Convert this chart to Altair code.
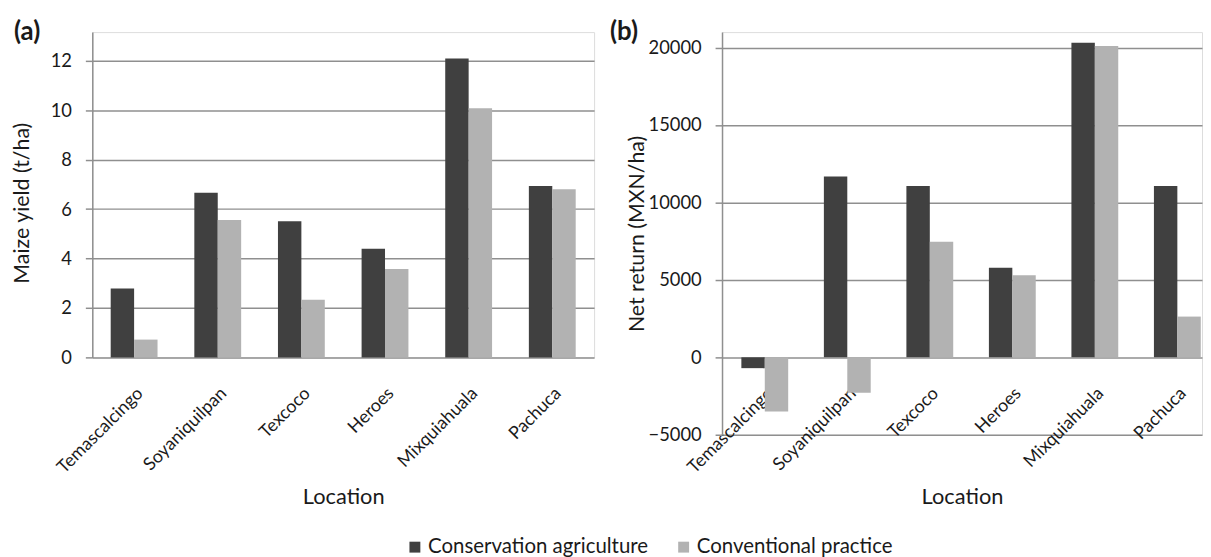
import altair as alt
import pandas as pd

locations = ["Temascalcingo", "Soyaniquilpan", "Texcoco", "Heroes", "Mixquiahuala", "Pachuca"]
series = ["Conservation agriculture", "Conventional practice"]
yield_ca = [2.79, 6.66, 5.51, 4.40, 12.09, 6.93]
yield_cp = [0.72, 5.56, 2.33, 3.58, 10.08, 6.80]
net_ca = [-700, 11670, 11070, 5790, 20320, 11070]
net_cp = [-3500, -2290, 7460, 5300, 20100, 2630]
yield_ticks = [0, 2, 4, 6, 8, 10, 12]
net_ticks = [-5000, 0, 5000, 10000, 15000, 20000]

rows = []
for i, loc in enumerate(locations):
    rows.append({"Location": loc, "Practice": series[0], "Yield": yield_ca[i], "Net": net_ca[i]})
    rows.append({"Location": loc, "Practice": series[1], "Yield": yield_cp[i], "Net": net_cp[i]})
df = pd.DataFrame(rows)

FONT = "Lato"
TXT = "#1a1a1a"
GRID = "#8f8f8f"

color = alt.Color(
    "Practice:N",
    sort=series,
    scale=alt.Scale(domain=series, range=["#404040", "#b2b2b2"]),
    legend=alt.Legend(
        title=None, orient="none", direction="horizontal",
        legendX=315, legendY=509,
        symbolType="square", symbolSize=121, symbolStrokeWidth=0,
        labelFontSize=20.6, labelFont=FONT, labelColor=TXT, labelLimit=400,
        columnPadding=25, labelOffset=3,
    ),
)

def yaxis(title, values, fmt, tx, ty=None):
    kw = dict(
        title=title, values=values, format=fmt, grid=True,
        gridColor=GRID, gridWidth=1.5, domainColor=GRID, domainWidth=1.5,
        tickColor=GRID, tickWidth=1.5, tickSize=7,
        labelFont=FONT, labelFontSize=18.5, labelColor=TXT, labelPadding=14,
        titleFont=FONT, titleFontSize=21.5, titleFontWeight="normal", titleColor=TXT,
        titleX=tx,
    )
    if ty is not None:
        kw["titleY"] = ty
    return alt.Axis(**kw)

def xaxis(offset):
    return alt.Axis(
        title="Location", labelAngle=-45, ticks=False, domain=False, offset=offset,
        labelFont=FONT, labelFontSize=18, labelColor=TXT, labelPadding=27,
        titleFont=FONT, titleFontSize=22, titleFontWeight="normal", titleColor=TXT,
        titlePadding=10,
    )

def ttl(t, off, dx):
    return alt.TitleParams(t, anchor="start", frame="bounds", font=FONT, fontSize=26,
                           fontWeight="bold", color=TXT, offset=off, dx=dx)

a = alt.Chart(df, title=ttl("(a)", -13, 2)).mark_bar().encode(
    x=alt.X("Location:N", sort=locations,
            scale=alt.Scale(paddingInner=0.44, paddingOuter=0.22), axis=xaxis(0)),
    xOffset=alt.XOffset("Practice:N", sort=series),
    y=alt.Y("Yield:Q", scale=alt.Scale(domain=[0, 13.16], nice=False),
            axis=yaxis("Maize yield (t/ha)", yield_ticks, "d", -59, 172)),
    color=color,
).properties(width=506, height=328)

b = alt.Chart(df, title=ttl("(b)", -13, -17)).mark_bar().encode(
    x=alt.X("Location:N", sort=locations,
            scale=alt.Scale(paddingInner=0.435, paddingOuter=0.126, align=0.93), axis=xaxis(-78)),
    xOffset=alt.XOffset("Practice:N", sort=series),
    y=alt.Y("Net:Q", scale=alt.Scale(domain=[-5000, 21000], nice=False),
            axis=yaxis("Net return (MXN/ha)", net_ticks, "d", -74)),
    color=color,
).properties(width=484, height=406)

chart = alt.hconcat(a, b, spacing=14).properties(
    padding={"left": 3, "right": 0, "top": 8, "bottom": 0}
).configure_view(stroke=None).configure(background="white")

chart.save("out.html", embed_options={"renderer": "svg", "actions": False})
